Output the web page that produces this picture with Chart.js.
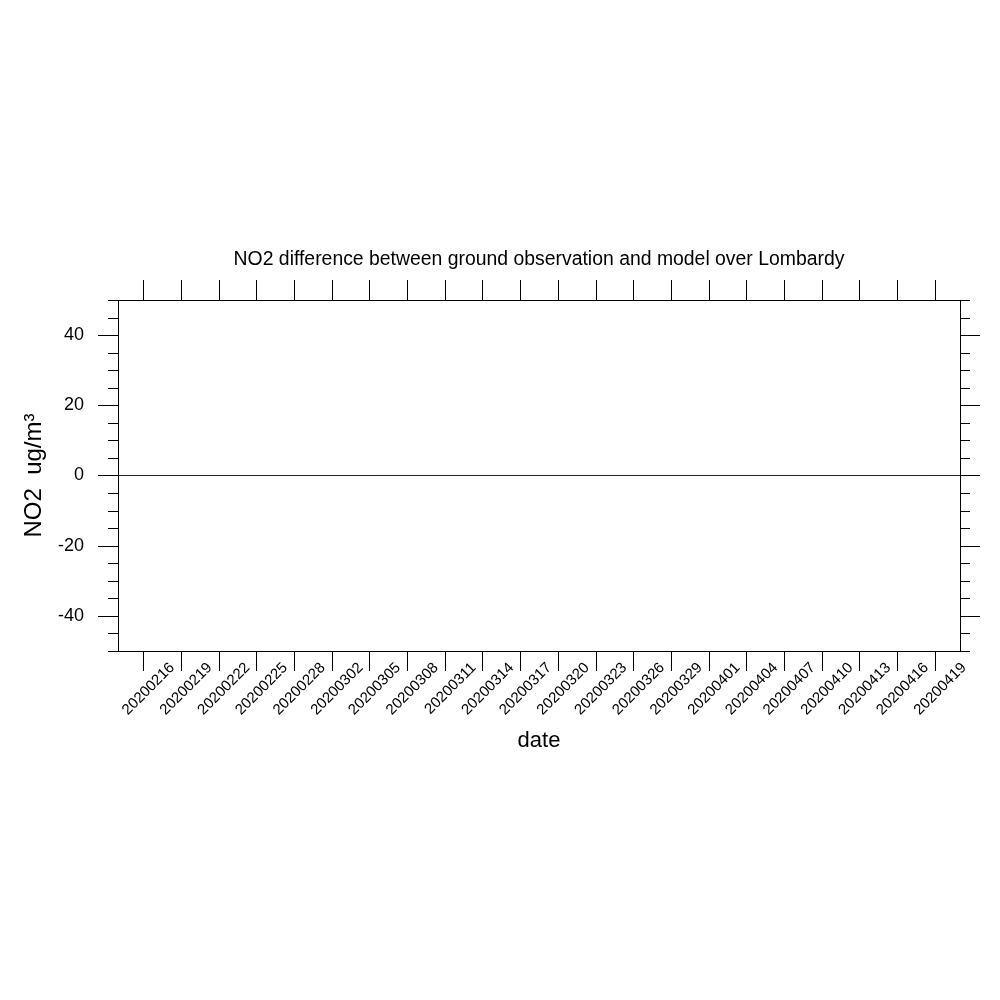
<!DOCTYPE html>
<html>
<head>
<meta charset="utf-8">
<title>NO2 difference over Lombardy</title>
<script src="https://cdn.jsdelivr.net/npm/chart.js@4/dist/chart.umd.min.js"></script>
<style>
    html, body { margin: 0; padding: 0; background: #fff; }
    #chart { display: block; }
</style>
</head>
<body>
<canvas id="chart" width="1000" height="1000"></canvas>
<script>
// Data
const xStart = '20200214';
const xEnd = '20200421';
const tickDates = [
    '20200216', '20200219', '20200222', '20200225', '20200228', '20200302',
    '20200305', '20200308', '20200311', '20200314', '20200317', '20200320',
    '20200323', '20200326', '20200329', '20200401', '20200404', '20200407',
    '20200410', '20200413', '20200416', '20200419'
];
const yMin = -50;
const yMax = 50;
const yTicks = [-40, -20, 0, 20, 40];
const yMinorStep = 5;
const refValue = 0;

// Helpers
function dayNum(s) {
    const d = Date.UTC(+s.slice(0, 4), +s.slice(4, 6) - 1, +s.slice(6, 8));
    return d / 86400000;
}

const FONT = '"Liberation Sans", Arial, Helvetica, sans-serif';
const MAJOR_LEN = 20;
const MINOR_LEN = 10;

// Frame + outward tick marks on all four sides
const frameTicks = {
    id: 'frameTicks',
    afterDraw(chart) {
        const { ctx, chartArea: a, scales: { x, y } } = chart;
        ctx.save();
        ctx.strokeStyle = '#000';
        ctx.lineWidth = 1;
        ctx.beginPath();
        for (let v = yMin; v <= yMax; v += yMinorStep) {
            const py = Math.round(y.getPixelForValue(v)) + 0.5;
            const len = yTicks.includes(v) ? MAJOR_LEN : MINOR_LEN;
            ctx.moveTo(a.left - len, py);
            ctx.lineTo(a.left, py);
            ctx.moveTo(a.right, py);
            ctx.lineTo(a.right + len, py);
        }
        x.ticks.forEach(t => {
            const px = Math.round(x.getPixelForValue(t.value)) + 0.5;
            ctx.moveTo(px, a.top - MAJOR_LEN);
            ctx.lineTo(px, a.top);
            ctx.moveTo(px, a.bottom);
            ctx.lineTo(px, a.bottom + MAJOR_LEN);
        });
        ctx.stroke();
        ctx.strokeRect(Math.round(a.left) + 0.5, Math.round(a.top) + 0.5,
            Math.round(a.right - a.left), Math.round(a.bottom - a.top));
        ctx.restore();
    }
};

const bgWhite = {
    id: 'bgWhite',
    beforeDraw(chart) {
        const { ctx, width, height } = chart;
        ctx.save();
        ctx.fillStyle = '#fff';
        ctx.fillRect(0, 0, width, height);
        ctx.restore();
    }
};

new Chart(document.getElementById('chart'), {
    type: 'line',
    data: {
        datasets: [{
            label: 'reference',
            data: [
                { x: dayNum(xStart), y: refValue },
                { x: dayNum(xEnd), y: refValue }
            ],
            borderColor: '#222',
            borderWidth: 1,
            pointRadius: 0,
            fill: false
        }]
    },
    options: {
        responsive: false,
        animation: false,
        devicePixelRatio: 1,
        layout: { padding: { top: 248, left: 0, right: 40, bottom: 245 } },
        plugins: {
            legend: { display: false },
            tooltip: { enabled: false },
            title: {
                display: true,
                fullSize: false,
                text: 'NO2 difference between ground observation and model over Lombardy',
                color: '#000',
                font: { family: FONT, size: 19.4, weight: 'normal' },
                padding: { top: 0, bottom: 28.7 }
            }
        },
        scales: {
            x: {
                type: 'linear',
                min: dayNum(xStart),
                max: dayNum(xEnd),
                afterBuildTicks: s => { s.ticks = tickDates.map(d => ({ value: dayNum(d) })); },
                afterFit: s => { s.height = 104; },
                grid: { display: false, drawTicks: false },
                border: { display: false },
                ticks: {
                    autoSkip: false,
                    minRotation: 45,
                    maxRotation: 45,
                    padding: 8,
                    labelOffset: 29,
                    color: '#000',
                    font: { family: FONT, size: 15 },
                    callback: (v, i) => tickDates[i]
                },
                title: {
                    display: true,
                    text: 'date',
                    color: '#000',
                    font: { family: FONT, size: 22 },
                    padding: { top: 0, bottom: 1 }
                }
            },
            y: {
                min: yMin,
                max: yMax,
                afterBuildTicks: s => { s.ticks = yTicks.map(v => ({ value: v })); },
                afterFit: s => { s.width = 118; },
                grid: { display: false, drawTicks: false },
                border: { display: false },
                ticks: {
                    padding: 34,
                    color: '#000',
                    font: { family: FONT, size: 18 }
                },
                title: {
                    display: true,
                    text: 'NO2  ug/m\u00B3',
                    color: '#000',
                    font: { family: FONT, size: 24 },
                    padding: { top: 20, bottom: 0 }
                }
            }
        }
    },
    plugins: [bgWhite, frameTicks]
});
</script>
</body>
</html>
